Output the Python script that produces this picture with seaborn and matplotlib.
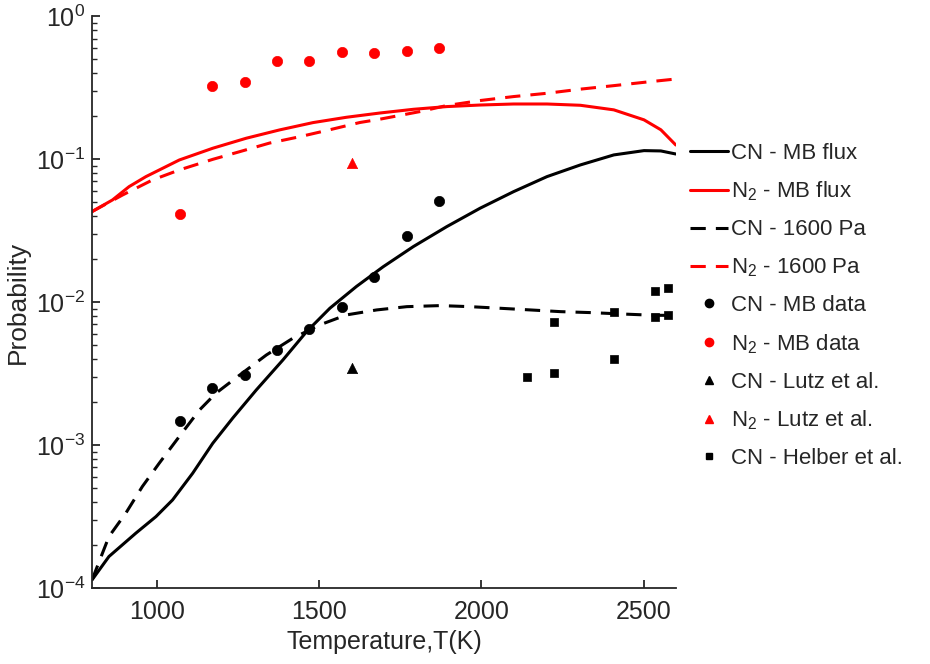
import numpy as np
import pandas as pd
import matplotlib
matplotlib.use("Agg")
import matplotlib.pyplot as plt
import seaborn as sns
from matplotlib.lines import Line2D
from matplotlib.ticker import LogLocator, FixedLocator, NullFormatter

# ---------------- data ----------------
cn_flux_T = [800, 852, 935, 997, 1048, 1110, 1172, 1234, 1306, 1388, 1461, 1533, 1615, 1697,
             1790, 1893, 1996, 2099, 2202, 2305, 2408, 2501, 2553, 2599]
cn_flux_P = [1.14e-4, 1.66e-4, 2.42e-4, 3.16e-4, 4.13e-4, 6.35e-4, 1.03e-3, 1.55e-3, 2.43e-3,
             3.94e-3, 6.22e-3, 9.08e-3, 1.29e-2, 1.77e-2, 2.45e-2, 3.38e-2, 4.55e-2, 5.94e-2,
             7.57e-2, 9.14e-2, 0.1074, 0.1151, 0.1145, 0.109]

n2_flux_T = [800, 863, 914, 966, 1069, 1172, 1275, 1378, 1481, 1584, 1687, 1790, 1893, 1996,
             2099, 2202, 2305, 2408, 2501, 2553, 2599]
n2_flux_P = [0.0431, 0.052, 0.0644, 0.0757, 0.099, 0.1196, 0.1405, 0.1607, 0.1808, 0.197, 0.211,
             0.224, 0.234, 0.240, 0.244, 0.244, 0.239, 0.222, 0.189, 0.161, 0.126]

cn_1600_T = [800, 852, 904, 955, 1007, 1069, 1131, 1182, 1254, 1337, 1419, 1501, 1584, 1677,
             1770, 1873, 1965, 2058, 2151, 2244, 2336, 2429, 2532, 2599]
cn_1600_P = [1.14e-4, 2.29e-4, 3.34e-4, 5.13e-4, 7.47e-4, 1.15e-3, 1.76e-3, 2.31e-3, 3.08e-3,
             4.27e-3, 5.6e-3, 6.93e-3, 8.15e-3, 8.83e-3, 9.31e-3, 9.47e-3, 9.31e-3, 9.07e-3,
             8.83e-3, 8.59e-3, 8.46e-3, 8.28e-3, 8.1e-3, 8.09e-3]

n2_1600_T = [800, 894, 986, 1069, 1172, 1254, 1347, 1440, 1532, 1625, 1687, 1811, 1893, 1996,
             2099, 2202, 2305, 2408, 2511, 2599]
n2_1600_P = [0.0431, 0.0563, 0.0717, 0.0843, 0.100, 0.113, 0.130, 0.144, 0.161, 0.181, 0.191,
             0.216, 0.238, 0.258, 0.275, 0.290, 0.310, 0.328, 0.348, 0.365]

mb_T = [1070, 1170, 1270, 1370, 1470, 1570, 1670, 1770, 1870]
cn_mb_P = [1.48e-3, 2.5e-3, 3.1e-3, 4.6e-3, 6.5e-3, 9.3e-3, 1.5e-2, 2.9e-2, 5.1e-2]
n2_mb_P = [0.0415, 0.326, 0.348, 0.488, 0.488, 0.565, 0.555, 0.573, 0.602]

lutz_T = [1600]
cn_lutz_P = [3.47e-3]
n2_lutz_P = [0.094]

helber_T = [2140, 2225, 2225, 2410, 2410, 2535, 2535, 2575, 2575]
helber_P = [3.0e-3, 3.2e-3, 7.3e-3, 4.0e-3, 8.5e-3, 1.2e-2, 7.9e-3, 1.25e-2, 8.1e-3]

labels = ["CN - MB flux", "N$_2$ - MB flux", "CN - 1600 Pa", "N$_2$ - 1600 Pa",
          "CN - MB data", "N$_2$ - MB data", "CN - Lutz et al.", "N$_2$ - Lutz et al.",
          "CN - Helber et al."]
x_ticks = [1000, 1500, 2000, 2500]

# ---------------- style ----------------
sns.set_theme(style="white")
plt.rcParams["font.family"] = ["Liberation Sans", "DejaVu Sans"]
plt.rcParams["mathtext.fontset"] = "custom"
plt.rcParams["mathtext.rm"] = "Liberation Sans"
plt.rcParams["mathtext.it"] = "Liberation Sans"
plt.rcParams["mathtext.bf"] = "Liberation Sans"
plt.rcParams["axes.unicode_minus"] = False

RED = "#ff0000"
BLK = "#000000"
GRAY = "#262626"
LW = 2.2
DASH = (5, 3.3)

fig = plt.figure(figsize=(9.3, 6.64), dpi=100)
ax = fig.add_axes([0.099, 0.1145, 0.628, 0.8607])

def line(T, P, color, dashed):
    df = pd.DataFrame({"T": T, "P": P})
    sns.lineplot(data=df, x="T", y="P", ax=ax, color=color, linewidth=LW,
                 estimator=None, sort=False)
    ln = ax.lines[-1]
    if dashed:
        ln.set_dashes(DASH)

line(n2_flux_T, n2_flux_P, RED, False)
line(n2_1600_T, n2_1600_P, RED, True)
line(cn_flux_T, cn_flux_P, BLK, False)
line(cn_1600_T, cn_1600_P, BLK, True)

def pts(T, P, color, marker, s):
    df = pd.DataFrame({"T": T, "P": P})
    sns.scatterplot(data=df, x="T", y="P", ax=ax, color=color, marker=marker, s=s,
                    edgecolor=color, linewidth=0.5, zorder=5)

pts(mb_T, cn_mb_P, BLK, "o", 55)
pts(mb_T, n2_mb_P, RED, "o", 55)
pts(lutz_T, cn_lutz_P, BLK, "^", 55)
pts(lutz_T, n2_lutz_P, RED, "^", 55)
pts(helber_T, helber_P, BLK, "s", 36)

ax.set_yscale("log")
ax.set_xlim(800, 2600)
ax.set_ylim(1e-4, 1e0)
ax.xaxis.set_major_locator(FixedLocator(x_ticks))
ax.yaxis.set_major_locator(LogLocator(base=10, numticks=10))
ax.yaxis.set_minor_locator(LogLocator(base=10, subs=np.arange(2, 10), numticks=20))
ax.yaxis.set_minor_formatter(NullFormatter())

for s in ["top", "right"]:
    ax.spines[s].set_visible(False)
for s in ["left", "bottom"]:
    ax.spines[s].set_color(GRAY)
    ax.spines[s].set_linewidth(1.3)

ax.tick_params(axis="both", which="major", direction="in", length=6, width=1.3,
               colors=GRAY, labelsize=18, left=True, bottom=True)
ax.tick_params(axis="x", which="major", pad=9)
ax.tick_params(axis="y", which="major", pad=5)
ax.tick_params(axis="y", which="minor", direction="in", length=3.5, width=1.0,
               colors=GRAY, left=True)
ax.set_xlabel("Temperature,T(K)", fontsize=18, color=GRAY, labelpad=4)
ax.set_ylabel("Probability", fontsize=19, color=GRAY, labelpad=4)

handles = [
    Line2D([], [], color=BLK, lw=LW),
    Line2D([], [], color=RED, lw=LW),
    Line2D([], [], color=BLK, lw=LW, dashes=DASH),
    Line2D([], [], color=RED, lw=LW, dashes=DASH),
    Line2D([], [], color=BLK, ls="none", marker="o", markersize=6),
    Line2D([], [], color=RED, ls="none", marker="o", markersize=6),
    Line2D([], [], color=BLK, ls="none", marker="^", markersize=6),
    Line2D([], [], color=RED, ls="none", marker="^", markersize=6),
    Line2D([], [], color=BLK, ls="none", marker="s", markersize=5),
]
leg = ax.legend(handles, labels, loc="upper left", bbox_to_anchor=(0.742, 0.785),
                bbox_transform=fig.transFigure, frameon=False, fontsize=16,
                handlelength=1.71, handletextpad=0.14, labelspacing=0.72, borderpad=0,
                borderaxespad=0)

fig.savefig("out.png", dpi=100)
